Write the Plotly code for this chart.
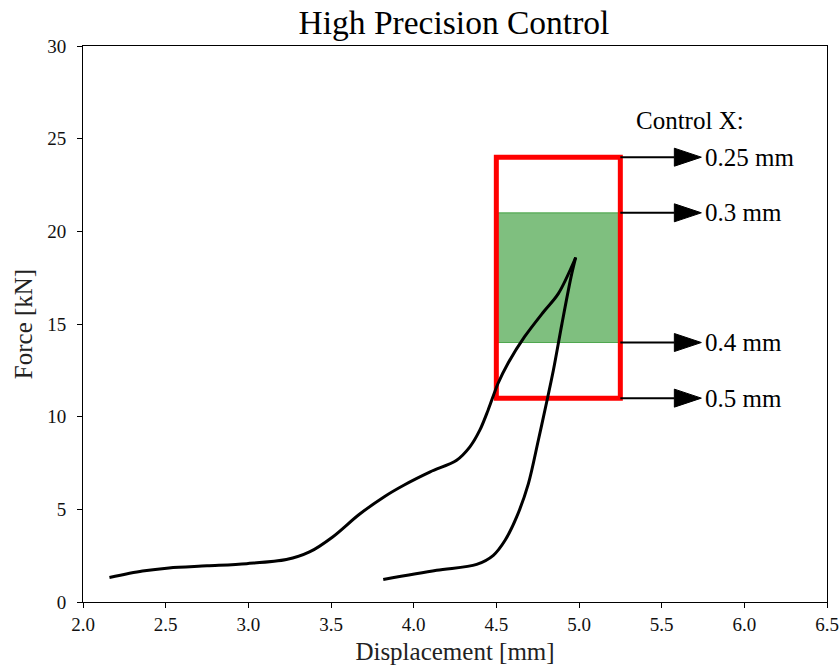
import plotly.graph_objects as go

# Data
load_x = [2.16, 2.36, 2.52, 2.75, 2.99, 3.23, 3.37, 3.51, 3.67, 3.82, 3.94, 4.10, 4.26, 4.34, 4.40, 4.45, 4.51, 4.57, 4.67, 4.785, 4.875, 4.98]
load_y = [1.32, 1.67, 1.84, 1.95, 2.07, 2.29, 2.70, 3.51, 4.72, 5.67, 6.30, 7.02, 7.65, 8.37, 9.27, 10.35, 11.79, 12.87, 14.30, 15.65, 16.64, 18.59]
unload_x = [4.98, 4.952, 4.897, 4.845, 4.80, 4.754, 4.694, 4.623, 4.553, 4.482, 4.381, 4.139, 3.816]
unload_y = [18.59, 17.54, 15.02, 12.50, 10.6, 8.73, 6.39, 4.59, 3.33, 2.52, 2.03, 1.71, 1.21]

box_x = [4.5, 5.25]
red_y = [11, 24]
green_y = [14, 21]
levels = [24, 21, 14, 11]
level_labels = ["0.25 mm", "0.3 mm", "0.4 mm", "0.5 mm"]
arrow_tip_x = 5.74
label_x = 5.75
legend_title = "Control X:"
legend_pos = (5.33, 26)

x_ticks = [2.0, 2.5, 3.0, 3.5, 4.0, 4.5, 5.0, 5.5, 6.0, 6.5]
y_ticks = [0, 5, 10, 15, 20, 25, 30]
x_range = [2.0, 6.5]
y_range = [0, 30]

FONT = "Liberation Serif"
W, H = 839, 671
M = dict(l=83, r=12, t=46, b=69)
px_per_x = (W - M["l"] - M["r"]) / (x_range[1] - x_range[0])
px_per_y = (H - M["t"] - M["b"]) / (y_range[1] - y_range[0])
head_len = 27 / px_per_x
head_half = 9 / px_per_y

fig = go.Figure()
fig.add_trace(go.Scatter(x=load_x, y=load_y, mode="lines",
                         line=dict(color="black", width=3, shape="spline", smoothing=0.9),
                         showlegend=False, hoverinfo="skip"))
fig.add_trace(go.Scatter(x=unload_x, y=unload_y, mode="lines",
                         line=dict(color="black", width=3, shape="spline", smoothing=0.9),
                         showlegend=False, hoverinfo="skip"))

# arrows: shaft + filled head
for lv in levels:
    base = arrow_tip_x - head_len
    fig.add_trace(go.Scatter(x=[box_x[1], base], y=[lv, lv], mode="lines",
                             line=dict(color="black", width=2), showlegend=False, hoverinfo="skip"))
    fig.add_trace(go.Scatter(x=[base, arrow_tip_x, base, base], y=[lv - head_half, lv, lv + head_half, lv - head_half],
                             mode="lines", fill="toself", fillcolor="black",
                             line=dict(color="black", width=1), showlegend=False, hoverinfo="skip"))

for lv, lab in zip(levels, level_labels):
    fig.add_annotation(x=label_x, y=lv, xref="x", yref="y", text=lab, showarrow=False,
                       xanchor="left", yanchor="middle", font=dict(family=FONT, size=25, color="black"))

# green region
fig.add_shape(type="rect", xref="x", yref="y", x0=box_x[0], x1=box_x[1], y0=green_y[0], y1=green_y[1],
              fillcolor="rgba(0,128,0,0.5)", line=dict(color="rgba(0,128,0,0.6)", width=1), layer="below")
# red box
fig.add_shape(type="rect", xref="x", yref="y", x0=box_x[0], x1=box_x[1], y0=red_y[0], y1=red_y[1],
              fillcolor="rgba(0,0,0,0)", line=dict(color="red", width=5), layer="below")

fig.add_annotation(x=legend_pos[0], y=legend_pos[1], xref="x", yref="y", text=legend_title,
                   showarrow=False, xanchor="left", yanchor="middle",
                   font=dict(family=FONT, size=25, color="black"))

axis_common = dict(showline=True, linecolor="black", linewidth=1, mirror=True,
                   ticks="outside", ticklen=5, tickwidth=1, tickcolor="black",
                   showgrid=False, zeroline=False, automargin=False,
                   tickfont=dict(family=FONT, size=19, color="#111"))

fig.update_xaxes(range=x_range, tickvals=x_ticks, ticktext=[f"{v:.1f}" for v in x_ticks],
                 title=dict(text="Displacement [mm]", font=dict(family=FONT, size=25, color="#222"), standoff=8),
                 **axis_common)
fig.update_yaxes(range=y_range, tickvals=y_ticks, ticktext=[str(v) for v in y_ticks],
                 ticklabelstandoff=7,
                 title=dict(text="Force [kN]", font=dict(family=FONT, size=25, color="#222"), standoff=7),
                 **axis_common)

fig.update_layout(
    width=W, height=H,
    margin=dict(l=M["l"], r=M["r"], t=M["t"], b=M["b"], pad=0, autoexpand=False),
    plot_bgcolor="white", paper_bgcolor="white",
    title=dict(text="High Precision Control", x=454 / W, xanchor="center",
               y=1 - 22 / H, yanchor="middle", yref="container",
               font=dict(family=FONT, size=33.5, color="black")),
    showlegend=False,
)

fig.write_html("out.html")
